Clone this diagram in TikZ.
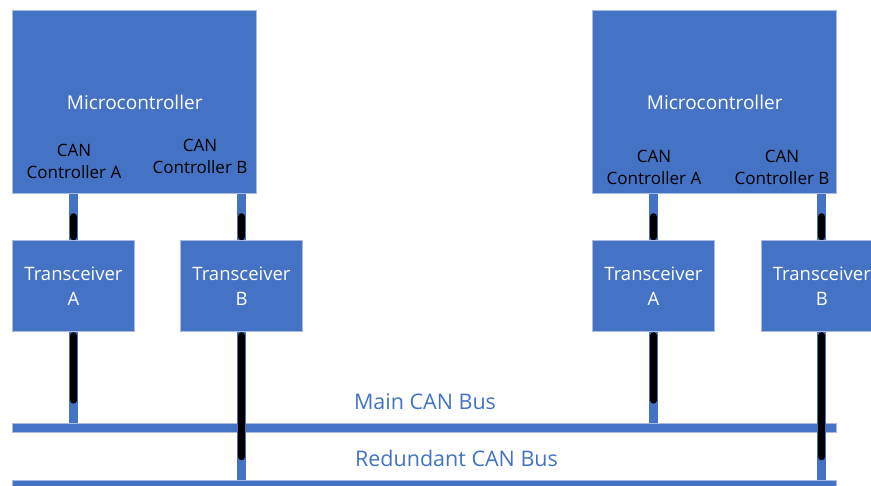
\documentclass[tikz,border=0pt]{standalone}
\usepackage{fontspec}
\setmainfont{Open Sans}
\definecolor{blueA}{HTML}{4472C4}
\definecolor{edgeA}{HTML}{A9BCE0}
\begin{document}
\begin{tikzpicture}[x=1pt,y=-1pt,
  blk/.style={draw=edgeA, fill=blueA, line width=1pt, inner sep=0pt},
  mcu/.style={blk, minimum width=244, minimum height=183},
  trx/.style={blk, minimum width=121.6, minimum height=91, text=white, align=center,
    font=\fontsize{18.5}{25}\selectfont},
  bus/.style={blk, minimum width=824, minimum height=9},
  mtext/.style={text=white, font=\fontsize{19}{23}\selectfont},
  ctext/.style={text=black, align=center, font=\fontsize{17}{22}\selectfont},
  btext/.style={text=blueA, font=\fontsize{21.5}{25}\selectfont},
  stub/.style={draw=blueA, line width=9pt},
  wire/.style={draw=black, line width=7pt, line cap=round}]
\useasboundingbox (0,0) rectangle (871,486);
\begin{scope}
\clip (0,0) rectangle (871,486);
% microcontrollers
\node[mcu] (mcuL) at (134.7,102.5) {};
\node[mcu] (mcuR) at (714.7,102.5) {};
\node[mtext] (mtL) at (134.7,102) {Microcontroller};
\node[mtext] (mtR) at (714.7,102) {Microcontroller};
\node[ctext] (cLA) at (74,161) {CAN\\Controller A};
\node[ctext] (cLB) at (200,156.5) {CAN\\Controller B};
\node[ctext] (cRA) at (654,167.5) {CAN\\Controller A};
\node[ctext] (cRB) at (782,167.5) {CAN\\Controller B};
% transceivers
\node[trx] (tLA) at (73.5,286.2) {Transceiver\\A};
\node[trx] (tLB) at (241.5,286.2) {Transceiver\\B};
\node[trx] (tRA) at (653.5,286.2) {Transceiver\\A};
\node[trx] (tRB) at (821.9,286.2) {Transceiver\\B};
% buses
\node[bus] (main) at (424.7,428.5) {};
\node[bus] (red) at (424.7,485.5) {};
\node[btext] (mainlbl) at (425,402) {Main CAN Bus};
\node[btext] (redlbl) at (456.5,458.5) {Redundant CAN Bus};
% upper connectors
\draw[stub] (tLA.north |- mcuL.south) -- (tLA.north);
\draw[stub] (tLB.north |- mcuL.south) -- (tLB.north);
\draw[stub] (tRA.north |- mcuR.south) -- (tRA.north);
\draw[stub] (tRB.north |- mcuR.south) -- (tRB.north);
\draw[wire] (tLA.north) ++(0,-3.5) -- ++(0,-20);
\draw[wire] (tLB.north) ++(0,-3.5) -- ++(0,-20);
\draw[wire] (tRA.north) ++(0,-3.5) -- ++(0,-20);
\draw[wire] (tRB.north) ++(0,-3.5) -- ++(0,-20);
% lower connectors
\draw[stub] (tLA.south) -- (tLA.south |- main.north);
\draw[stub] (tRA.south) -- (tRA.south |- main.north);
\draw[stub] (tLB.south) -- (tLB.south |- red.north);
\draw[stub] (tRB.south) -- (tRB.south |- red.north);
\draw[wire] (tLA.south) ++(0,3.5) -- ++(0,64.5);
\draw[wire] (tRA.south) ++(0,3.5) -- ++(0,64.5);
\draw[wire] (tLB.south) ++(0,3.5) -- ++(0,121);
\draw[wire] (tRB.south) ++(0,3.5) -- ++(0,121);
\end{scope}
\end{tikzpicture}
\end{document}
